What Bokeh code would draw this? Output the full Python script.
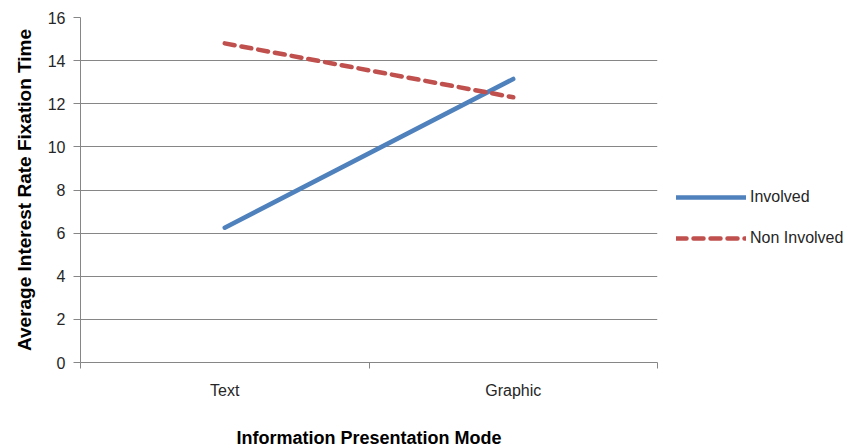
from bokeh.plotting import figure
from bokeh.models import Range1d, FixedTicker, Legend, LegendItem, ColumnDataSource
from bokeh.embed import file_html
from bokeh.resources import INLINE

categories = ["Text", "Graphic"]
involved = [6.25, 13.15]
non_involved = [14.8, 12.3]
y_ticks = [0, 2, 4, 6, 8, 10, 12, 14, 16]

FONT = "Liberation Sans"

xpos = [i + 0.5 for i in range(len(categories))]
src = ColumnDataSource(dict(x=xpos, inv=involved, non=non_involved))

p = figure(frame_width=577, frame_height=345, output_backend="svg", toolbar_location=None,
           x_range=Range1d(0, len(categories)), y_range=Range1d(0, 16),
           min_border_left=80, min_border_right=0, min_border_top=17, min_border_bottom=84)
p.outline_line_color = None
p.background_fill_color = "white"

r1 = p.line("x", "inv", source=src, line_color="#4F81BD", line_width=4.5, line_cap="round")
r2 = p.line("x", "non", source=src, line_color="#C0504D", line_width=4.5, line_dash="10 7", line_cap="round")

# x axis
p.xaxis.ticker = FixedTicker(ticks=xpos, minor_ticks=list(range(len(categories) + 1)))
p.xaxis.major_label_overrides = {x: c for x, c in zip(xpos, categories)}
p.xaxis.major_tick_line_color = None
p.xaxis.minor_tick_in = 0
p.xaxis.minor_tick_out = 6
p.xaxis.minor_tick_line_color = "#868686"
p.xaxis.axis_line_color = "#868686"
p.xaxis.major_label_standoff = 13
p.xaxis.major_label_text_font = FONT
p.xaxis.major_label_text_font_size = "16px"
p.xaxis.major_label_text_color = "#262626"
p.xaxis.axis_label = "Information Presentation Mode"
p.xaxis.axis_label_text_font = FONT
p.xaxis.axis_label_text_font_size = "18px"
p.xaxis.axis_label_text_font_style = "bold"
p.xaxis.axis_label_text_color = "black"
p.xaxis.axis_label_standoff = 26
p.xgrid.grid_line_color = None

# y axis
p.yaxis.ticker = FixedTicker(ticks=y_ticks)
p.yaxis.minor_tick_line_color = None
p.yaxis.major_tick_in = 0
p.yaxis.major_tick_out = 7
p.yaxis.major_tick_line_color = "#868686"
p.yaxis.axis_line_color = "#868686"
p.yaxis.major_label_standoff = 8
p.yaxis.major_label_text_font = FONT
p.yaxis.major_label_text_font_size = "16px"
p.yaxis.major_label_text_color = "#262626"
p.yaxis.axis_label = "Average Interest Rate Fixation Time"
p.yaxis.axis_label_text_font = FONT
p.yaxis.axis_label_text_font_size = "19px"
p.yaxis.axis_label_text_font_style = "bold"
p.yaxis.axis_label_text_color = "black"
p.yaxis.axis_label_standoff = 10
p.ygrid.grid_line_color = "#868686"
p.ygrid.grid_line_width = 1

legend = Legend(items=[LegendItem(label="Involved", renderers=[r1]),
                       LegendItem(label="Non Involved", renderers=[r2])],
                location=(19, 114), padding=0, margin=0, border_line_color=None,
                background_fill_alpha=0, glyph_width=70, glyph_height=20,
                label_height=20, spacing=21, label_standoff=4,
                label_text_font=FONT, label_text_font_size="16px",
                label_text_color="#262626")
p.add_layout(legend, "right")

open("out.html", "w").write(file_html(p, INLINE))
